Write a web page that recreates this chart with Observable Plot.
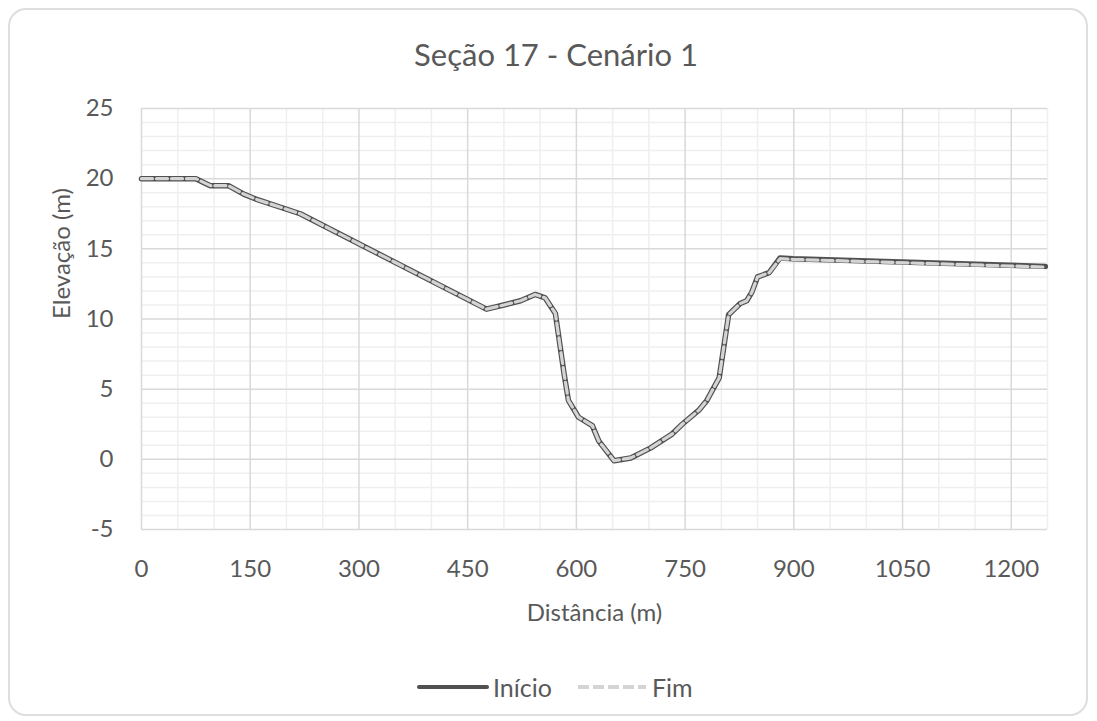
<!DOCTYPE html>
<html>
<head>
<meta charset="utf-8">
<script src="https://cdn.jsdelivr.net/npm/d3@7"></script>
<script src="https://cdn.jsdelivr.net/npm/@observablehq/plot@0.6"></script>
<style>
  html, body { margin: 0; padding: 0; background: #fff; }
  #wrap { position: relative; width: 1097px; height: 721px; overflow: hidden; font-family: Lato, "Open Sans", sans-serif; color: #595959; }
  #frame { position: absolute; left: 8px; top: 8px; width: 1080px; height: 708px; border: 2px solid #dedede; border-radius: 18px; box-sizing: border-box; }
  #title { position: absolute; left: 0; width: 1112px; top: 34px; text-align: center; font-size: 31px; line-height: 40px; }
  #chart { position: absolute; left: 0; top: 0; }
  #legend { position: absolute; left: 417px; top: 670px; height: 34px; display: flex; align-items: center; font-size: 25px; }
  #legend svg { display: block; }
</style>
</head>
<body>
<div id="wrap">
  <div id="frame"></div>
  <div id="chart"></div>
  <div id="title"></div>
  <div id="legend"></div>
</div>
<script>
// ---- data ----
const title = "Seção 17 - Cenário 1";
const xLabel = "Distância (m)";
const yLabel = "Elevação (m)";
const seriesNames = ["Início", "Fim"];
const distancia = [0, 75, 95, 120, 141, 160, 219, 476, 504, 523, 543, 557, 571, 583, 589, 603, 622, 631, 652, 675, 702, 732, 746, 769, 780, 797, 810, 826, 835, 842, 850, 866, 881, 899, 1247];
const inicio = [20.0, 20.0, 19.5, 19.5, 18.9, 18.5, 17.5, 10.7, 11.05, 11.3, 11.75, 11.5, 10.4, 6.1, 4.2, 3.0, 2.4, 1.3, -0.1, 0.1, 0.8, 1.8, 2.5, 3.5, 4.2, 5.8, 10.3, 11.1, 11.3, 11.9, 13.0, 13.3, 14.35, 14.3, 13.75];
const fim = [20.0, 20.0, 19.5, 19.5, 18.9, 18.5, 17.5, 10.7, 11.05, 11.3, 11.75, 11.5, 10.4, 6.1, 4.2, 3.0, 2.4, 1.3, -0.1, 0.1, 0.8, 1.8, 2.5, 3.5, 4.2, 5.8, 10.3, 11.1, 11.3, 11.9, 13.0, 13.3, 14.3, 14.25, 13.7];
const xTicks = [0, 150, 300, 450, 600, 750, 900, 1050, 1200];
const yTicks = [-5, 0, 5, 10, 15, 20, 25];

// ---- styles ----
const colInicio = "#505050";
const colFim = "#d4d4d4";

const rowsInicio = distancia.map((d, i) => ({d, v: inicio[i]}));
const rowsFim = distancia.map((d, i) => ({d, v: fim[i]}));
const xMinor = d3.range(0, 1251, 50).filter(v => v % 150 !== 0);
const yMinor = d3.range(-5, 26, 1).filter(v => v % 5 !== 0);
const fmt = d => String(d).replace("\u2212", "-");

const chart = Plot.plot({
  width: 1097,
  height: 721,
  marginLeft: 141,
  marginRight: 50,
  marginTop: 108,
  marginBottom: 192,
  x: {domain: [0, 1250]},
  y: {domain: [-5, 25]},
  style: {fontFamily: "Lato, 'Open Sans', sans-serif", fontSize: "24px", color: "#595959", background: "transparent"},
  marks: [
    Plot.gridX(xMinor, {stroke: "#efefef", strokeOpacity: 1, strokeWidth: 1.5}),
    Plot.gridY(yMinor, {stroke: "#efefef", strokeOpacity: 1, strokeWidth: 1.5}),
    Plot.gridX(xTicks, {stroke: "#d9d9d9", strokeOpacity: 1, strokeWidth: 1.5}),
    Plot.gridY(yTicks, {stroke: "#d9d9d9", strokeOpacity: 1, strokeWidth: 1.5}),
    Plot.axisX({ticks: xTicks, tickSize: 0, tickPadding: 30, fontSize: 24, label: null, tickFormat: fmt}),
    Plot.axisY({ticks: yTicks, tickSize: 0, tickPadding: 28, fontSize: 24, label: null, tickFormat: fmt}),
    Plot.line(rowsInicio, {x: "d", y: "v", stroke: colInicio, strokeWidth: 5.5, strokeLinejoin: "round"}),
    Plot.line(rowsFim, {x: "d", y: "v", stroke: colFim, strokeWidth: 3.2, strokeDasharray: "11,4", strokeLinejoin: "round"}),
    Plot.text([xLabel], {frameAnchor: "bottom", dy: 84, fontSize: 24, fill: "#595959", lineAnchor: "middle"}),
    Plot.text([yLabel], {frameAnchor: "left", dx: -79, rotate: -90, fontSize: 24, fill: "#595959", lineAnchor: "middle"})
  ]
});
document.getElementById("chart").appendChild(chart);
document.getElementById("title").textContent = title;

// legend
const legend = document.getElementById("legend");
function swatch(color, dash, w) {
  const ns = "http://www.w3.org/2000/svg";
  const s = document.createElementNS(ns, "svg");
  s.setAttribute("width", 72); s.setAttribute("height", 10);
  const l = document.createElementNS(ns, "line");
  l.setAttribute("x1", 2); l.setAttribute("x2", 70); l.setAttribute("y1", 5); l.setAttribute("y2", 5);
  l.setAttribute("stroke", color); l.setAttribute("stroke-width", w);
  l.setAttribute("stroke-linecap", "round");
  if (dash) { l.setAttribute("stroke-dasharray", dash); l.setAttribute("stroke-linecap", "butt"); }
  s.appendChild(l);
  return s;
}
const items = [[colInicio, null, 4], [colFim, "11,4", 4]];
seriesNames.forEach((name, i) => {
  const [c, dsh, w] = items[i];
  legend.appendChild(swatch(c, dsh, w));
  const t = document.createElement("span");
  t.textContent = name;
  t.style.marginLeft = "4px";
  t.style.marginRight = i === 0 ? "24px" : "0";
  legend.appendChild(t);
});
</script>
</body>
</html>
